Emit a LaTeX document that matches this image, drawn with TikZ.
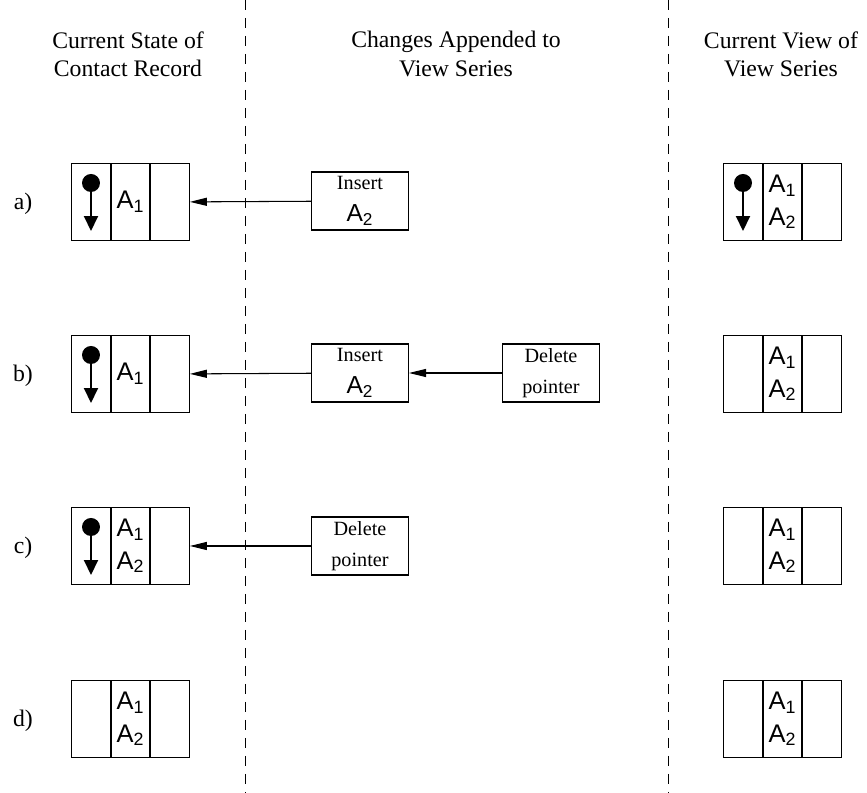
\documentclass[tikz,border=0pt]{standalone}
\usepackage{fontspec}
\setmainfont{Liberation Serif}
\setsansfont{Liberation Sans}
\usetikzlibrary{arrows.meta,positioning}
\newcommand{\attrib}[1]{A\textsubscript{#1}}

\begin{document}
\begin{tikzpicture}[x=0.02cm, y=-0.02cm,
  cell/.style={draw, line width=0.6pt, minimum width=0.77cm, minimum height=1.54cm,
               inner sep=0pt, align=center, font=\sffamily\fontsize{14.5}{18.5}\selectfont},
  change/.style={draw, line width=0.6pt, minimum width=1.94cm, minimum height=1.16cm,
                 inner sep=1pt, align=center, font=\fontsize{11.5}{18}\selectfont},
  head/.style={align=center, font=\fontsize{13.5}{16}\selectfont},
  lbl/.style={font=\fontsize{13.5}{16}\selectfont},
  sep/.style={dash pattern=on 0.2cm off 0.16cm, line width=0.5pt},
  arr/.style={-{Triangle[length=0.34cm,width=0.16cm]}, line width=0.6pt},
  ptr/.style={-{Triangle[length=0.3cm,width=0.28cm]}, line width=1.1pt}
]
\useasboundingbox (0,0) rectangle (867,793);

\draw[sep] (245,0) -- (245,793);
\draw[sep] (668,0) -- (668,793);

\node[head] (hstate) at (128,54) {Current State of\\Contact Record};
\node[head] (hchange) at (456,54) {Changes Appended to\\View Series};
\node[head] (hview) at (781,54) {Current View of\\View Series};

\node[lbl] (la) at (23,204) {a)};
\node[lbl] (lb) at (23,376) {b)};
\node[lbl] (lc) at (23,548) {c)};
\node[lbl] (ld) at (23,721) {d)};

% current state of the contact record
\node[cell] (sa1) at (91,202) {};
\node[cell, right=0pt of sa1] (sa2) {\attrib{1}};
\node[cell, right=0pt of sa2] (sa3) {};
\node[cell] (sb1) at (91,374) {};
\node[cell, right=0pt of sb1] (sb2) {\attrib{1}};
\node[cell, right=0pt of sb2] (sb3) {};
\node[cell] (sc1) at (91,546) {};
\node[cell, right=0pt of sc1] (sc2) {\attrib{1}\\\attrib{2}};
\node[cell, right=0pt of sc2] (sc3) {};
\node[cell] (sd1) at (91,719) {};
\node[cell, right=0pt of sd1] (sd2) {\attrib{1}\\\attrib{2}};
\node[cell, right=0pt of sd2] (sd3) {};

% current view of the view series
\node[cell] (va1) at (743,202) {};
\node[cell, right=0pt of va1] (va2) {\attrib{1}\\\attrib{2}};
\node[cell, right=0pt of va2] (va3) {};
\node[cell] (vb1) at (743,374) {};
\node[cell, right=0pt of vb1] (vb2) {\attrib{1}\\\attrib{2}};
\node[cell, right=0pt of vb2] (vb3) {};
\node[cell] (vc1) at (743,546) {};
\node[cell, right=0pt of vc1] (vc2) {\attrib{1}\\\attrib{2}};
\node[cell, right=0pt of vc2] (vc3) {};
\node[cell] (vd1) at (743,719) {};
\node[cell, right=0pt of vd1] (vd2) {\attrib{1}\\\attrib{2}};
\node[cell, right=0pt of vd2] (vd3) {};

% pointers
\foreach \c in {sa1,sb1,sc1,va1} {
  \fill ([yshift=-0.4cm]\c.north) circle (0.18cm);
  \draw[ptr] ([yshift=-0.4cm]\c.north) -- ([yshift=0.2cm]\c.south);
}

% appended changes
\node[change] (insa) at (360,201) {Insert\\{\sffamily\fontsize{14}{18}\selectfont\attrib{2}}};
\node[change] (insb) at (360,373) {Insert\\{\sffamily\fontsize{14}{18}\selectfont\attrib{2}}};
\node[change] (delb) at (551,373) {Delete\\pointer};
\node[change] (delc) at (360,546) {Delete\\pointer};

\draw[arr] (insa) -- (sa3);
\draw[arr] (insb) -- (sb3);
\draw[arr] (delb) -- (insb);
\draw[arr] (delc) -- (sc3);
\end{tikzpicture}
\end{document}
